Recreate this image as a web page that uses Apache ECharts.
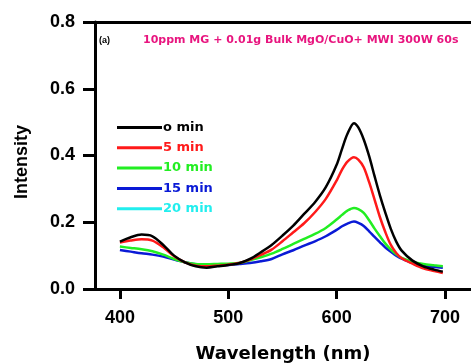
<!DOCTYPE html>
<html>
<head>
<meta charset="utf-8">
<script src="https://cdn.jsdelivr.net/npm/echarts@6/dist/echarts.min.js"></script>
<style>
  html, body { margin: 0; padding: 0; background: #fff; }
</style>
</head>
<body>
<div id="main" style="width: 471px; height: 363px;"></div>
<script>
// wavelength (nm) sample points
var wavelengths = [400, 410, 420, 430, 440, 450, 460, 470, 480, 490, 500, 510, 520, 530, 540, 550, 560, 570, 580, 590, 600, 605, 610, 616, 620, 625, 630, 635, 640, 645, 650, 655, 660, 670, 680, 690, 698]
// intensity readings for each irradiation time
var min0 = [0.142, 0.155, 0.163, 0.158, 0.132, 0.100, 0.080, 0.068, 0.064, 0.068, 0.072, 0.077, 0.090, 0.110, 0.132, 0.160, 0.190, 0.225, 0.260, 0.305, 0.372, 0.420, 0.465, 0.497, 0.484, 0.448, 0.398, 0.338, 0.280, 0.228, 0.180, 0.142, 0.115, 0.085, 0.068, 0.058, 0.052]
var min5 = [0.139, 0.145, 0.149, 0.145, 0.125, 0.098, 0.080, 0.070, 0.068, 0.070, 0.073, 0.078, 0.088, 0.102, 0.118, 0.143, 0.170, 0.197, 0.230, 0.270, 0.325, 0.358, 0.382, 0.395, 0.388, 0.365, 0.320, 0.268, 0.215, 0.170, 0.132, 0.108, 0.092, 0.076, 0.062, 0.054, 0.048]
var min10 = [0.127, 0.123, 0.119, 0.113, 0.103, 0.090, 0.080, 0.075, 0.074, 0.075, 0.076, 0.078, 0.086, 0.095, 0.106, 0.120, 0.135, 0.150, 0.165, 0.183, 0.208, 0.222, 0.235, 0.243, 0.239, 0.228, 0.206, 0.181, 0.158, 0.136, 0.118, 0.104, 0.093, 0.082, 0.075, 0.071, 0.068]
var min15 = [0.117, 0.112, 0.107, 0.103, 0.097, 0.088, 0.080, 0.074, 0.072, 0.072, 0.072, 0.075, 0.078, 0.083, 0.090, 0.104, 0.116, 0.130, 0.143, 0.158, 0.177, 0.188, 0.196, 0.202, 0.198, 0.189, 0.173, 0.156, 0.140, 0.124, 0.112, 0.100, 0.091, 0.078, 0.070, 0.066, 0.064]
var min20 = []
var seriesNames = ['o min', '5 min', '10 min', '15 min', '20 min']
var seriesColors = ['#000000', '#ff1a1a', '#22ee22', '#0a1ad6', '#22eeee']
var xTicks = [400, 500, 600, 700]

function pairs (ys) {
  var out = []
  for (var i = 0; i < ys.length; i++) {
    out.push([wavelengths[i], ys[i]])
  }
  return out
}

var allData = [min0, min5, min10, min15, min20]
var series = []
for (var s = 0; s < allData.length; s++) {
  series.push({
    name: seriesNames[s],
    type: 'line',
    smooth: 0.3,
    symbol: 'none',
    data: pairs(allData[s]),
    lineStyle: { color: seriesColors[s], width: 2.5 },
    itemStyle: { color: seriesColors[s] },
    z: 10 - s
  })
}

var legendData = []
for (var k = 0; k < seriesNames.length; k++) {
  legendData.push({ name: seriesNames[k], textStyle: { color: seriesColors[k] } })
}

var chart = echarts.init(document.getElementById('main'))
chart.setOption({
  animation: false,
  backgroundColor: '#fff',
  textStyle: { fontFamily: 'Liberation Sans, Arial, sans-serif' },
  grid: { left: 95, right: 0, top: 22, bottom: 74, outerBoundsMode: 'none' },
  legend: {
    orient: 'vertical',
    left: 112,
    top: 116,
    icon: 'rect',
    itemWidth: 45,
    itemHeight: 3,
    itemGap: 7.3,
    data: legendData,
    textStyle: { fontSize: 13, fontWeight: 'bold', fontFamily: 'DejaVu Sans', padding: [0, 0, 0, -4] }
  },
  xAxis: [{
    type: 'value',
    min: 377,
    max: 724,
    name: 'Wavelength (nm)',
    nameLocation: 'middle',
    nameGap: 56,
    nameTextStyle: { fontSize: 18, fontWeight: 'bold', fontFamily: 'DejaVu Sans', color: '#000' },
    axisLine: { lineStyle: { color: '#000', width: 3 } },
    axisTick: { show: true, customValues: xTicks, length: 10, lineStyle: { color: '#000', width: 3 } },
    axisLabel: { customValues: xTicks, margin: 20, fontSize: 18, fontWeight: 'bold', color: '#000' },
    splitLine: { show: false }
  }, {
    type: 'value',
    position: 'top',
    min: 377,
    max: 724,
    axisLine: { show: true, lineStyle: { color: '#000', width: 3 } },
    axisTick: { show: false },
    axisLabel: { show: false },
    splitLine: { show: false }
  }],
  yAxis: {
    type: 'value',
    min: 0,
    max: 0.8,
    interval: 0.2,
    axisLine: { show: true, lineStyle: { color: '#000', width: 3 } },
    axisTick: { show: true, length: 12, lineStyle: { color: '#000', width: 3 } },
    axisLabel: { margin: 20, fontSize: 18, fontWeight: 'bold', color: '#000', formatter: function (v) { return v.toFixed(1) } },
    splitLine: { show: false }
  },
  graphic: [
    { type: 'text', x: 22, y: 162, rotation: Math.PI / 2, style: { text: 'Intensity', font: 'bold 18px Liberation Sans', fill: '#000', align: 'center', verticalAlign: 'middle' } },
    { type: 'text', left: 99, top: 36, style: { text: '(a)', font: 'bold 9px Liberation Sans', fill: '#000' } },
    { type: 'text', left: 143, top: 35, style: { text: '10ppm MG + 0.01g Bulk MgO/CuO+ MWI 300W 60s', font: 'bold 11px DejaVu Sans', fill: '#e8157f' } }
  ],
  series: series
})
</script>
</body>
</html>
